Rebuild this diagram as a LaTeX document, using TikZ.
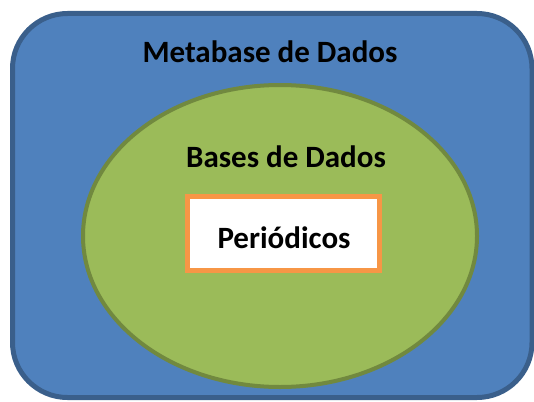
\documentclass[tikz,border=0pt]{standalone}
\usepackage{fontspec}
\setmainfont{Carlito}
\usetikzlibrary{positioning}
\usetikzlibrary{shapes.geometric}

\definecolor{metablue}{HTML}{4F81BD}
\definecolor{metaedge}{HTML}{3A5F8B}
\definecolor{basegreen}{HTML}{9BBB59}
\definecolor{baseedge}{HTML}{71893F}
\definecolor{perorange}{HTML}{F79646}

\tikzset{
	titletext/.style={anchor=base,inner sep=0pt,font=\fontsize{31}{33}\selectfont\bfseries},
}

\begin{document}
\begin{tikzpicture}[x=1pt,y=-1pt]
		\useasboundingbox (0,0) rectangle (534,401);

		\node [draw=metaedge,fill=metablue,line width=5pt,rectangle,rounded corners=55pt,
			minimum width=519.5pt,minimum height=384pt] (meta) at (272.25,205.5) {};
		\node [draw=baseedge,fill=basegreen,line width=4pt,ellipse,
			minimum width=394pt,minimum height=302pt] (bases) at (280,236) {};
		\node [draw=perorange,fill=white,line width=5pt,rectangle,
			minimum width=192pt,minimum height=74pt] (per) at (283.5,233.5) {};

		\node [titletext] (metaLabel) at (270,63) {Metabase de Dados};
		\node [titletext] (basesLabel) at (286,167) {Bases de Dados};
		\node [titletext] (perLabel) at (284,248) {Periódicos};
	\end{tikzpicture}
\end{document}
